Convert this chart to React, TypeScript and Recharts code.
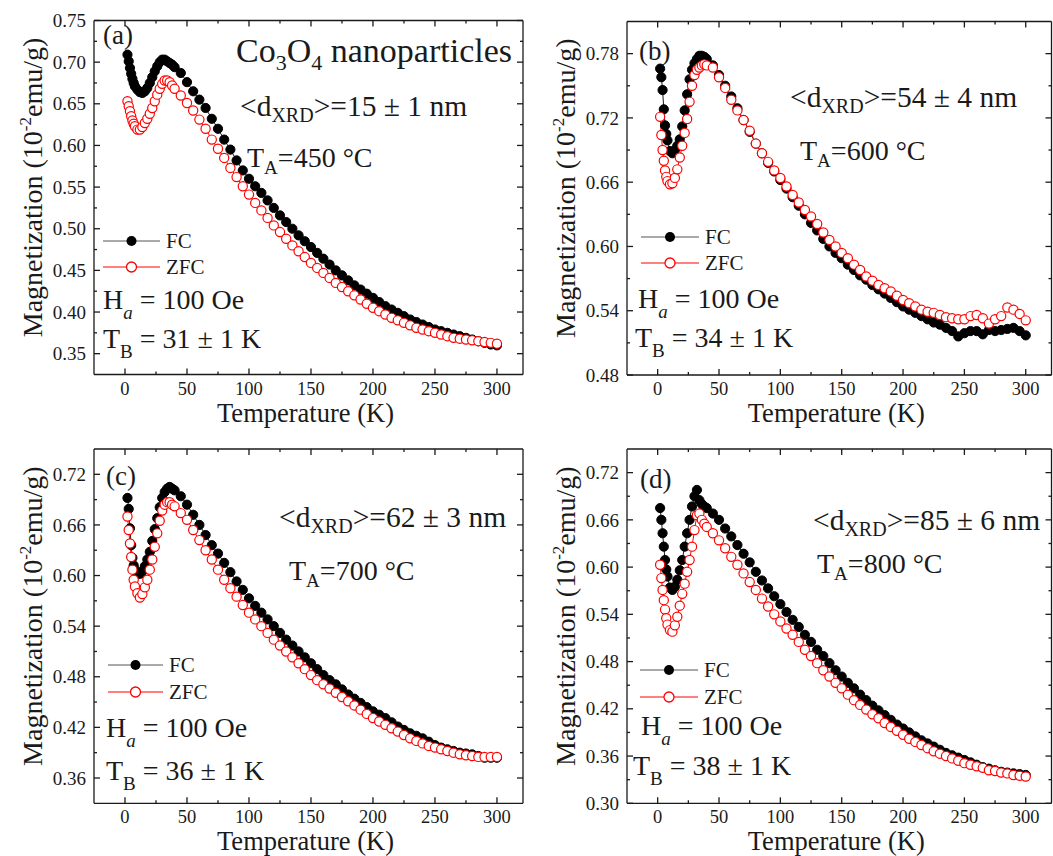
import { LineChart, Line, XAxis, YAxis } from 'recharts'

const FONT = '"Liberation Serif", "Times New Roman", Times, serif'
const INK = '#1a1a1a'
const RED = '#ff0000'

// temperature grid (K)
const temps = [
  2, 3, 4, 5, 6, 7, 8, 10, 12, 14, 16, 18, 20, 22, 24, 26, 28, 30, 32, 34, 36, 38, 40,
  45, 50, 55, 60, 65, 70, 75, 80, 85, 90, 95, 100, 105, 110, 115, 120, 125, 130, 135, 140,
  145, 150, 155, 160, 165, 170, 175, 180, 185, 190, 195, 200, 205, 210, 215, 220, 225, 230,
  235, 240, 245, 250, 255, 260, 265, 270, 275, 280, 285, 290, 295, 300,
]

// (a) T_A = 450 °C
const fcA = [
  0.709, 0.701, 0.693, 0.686, 0.680, 0.675, 0.671, 0.667, 0.664, 0.663, 0.665, 0.669, 0.675, 0.682, 0.689, 0.695, 0.700, 0.703, 0.703, 0.701, 0.699, 0.697, 0.694,
  0.687, 0.676, 0.665, 0.655, 0.645, 0.632, 0.620, 0.607, 0.595, 0.582,
  0.570, 0.560, 0.551, 0.543, 0.534, 0.525, 0.516, 0.508, 0.500, 0.492,
  0.485, 0.478, 0.471, 0.464, 0.457, 0.450, 0.444, 0.438, 0.432, 0.427,
  0.422, 0.417, 0.412, 0.407, 0.403, 0.399, 0.395, 0.391, 0.388, 0.385,
  0.382, 0.379, 0.377, 0.375, 0.373, 0.371, 0.369, 0.367, 0.365, 0.363,
  0.361, 0.360,
]
const zfcA = [
  0.653, 0.647, 0.641, 0.635, 0.630, 0.626, 0.623, 0.619, 0.619, 0.622, 0.627, 0.632, 0.638, 0.645, 0.653, 0.661, 0.668, 0.674, 0.678, 0.678, 0.676, 0.672, 0.668,
  0.660, 0.651, 0.642, 0.631, 0.620, 0.607, 0.596, 0.585, 0.573, 0.562,
  0.551, 0.541, 0.531, 0.522, 0.513, 0.504, 0.496, 0.488, 0.480, 0.473,
  0.466, 0.459, 0.453, 0.447, 0.441, 0.435, 0.430, 0.425, 0.420, 0.415,
  0.410, 0.405, 0.401, 0.397, 0.393, 0.390, 0.387, 0.384, 0.381, 0.379,
  0.377, 0.375, 0.373, 0.371, 0.369, 0.368, 0.367, 0.366, 0.365, 0.364,
  0.363, 0.362,
]

// (b) T_A = 600 °C
const fcB = [
  0.766, 0.758, 0.746, 0.728, 0.713, 0.705, 0.699, 0.689, 0.687, 0.690, 0.694, 0.700, 0.712, 0.727, 0.742, 0.756, 0.765, 0.771, 0.775, 0.778, 0.778, 0.777, 0.775,
  0.769, 0.760, 0.750, 0.740, 0.729, 0.718, 0.707, 0.696, 0.687, 0.678,
  0.670, 0.662, 0.654, 0.646, 0.638, 0.630, 0.622, 0.615, 0.607, 0.600,
  0.594, 0.589, 0.583, 0.578, 0.573, 0.569, 0.564, 0.560, 0.556, 0.552,
  0.548, 0.544, 0.541, 0.538, 0.535, 0.532, 0.529, 0.527, 0.524, 0.521,
  0.516, 0.519, 0.521, 0.521, 0.518, 0.522, 0.521, 0.522, 0.523, 0.524,
  0.521, 0.517,
]
const zfcB = [
  0.721, 0.704, 0.690, 0.680, 0.671, 0.665, 0.661, 0.658, 0.659, 0.664, 0.672, 0.683, 0.694, 0.706, 0.719, 0.735, 0.750, 0.760, 0.765, 0.767, 0.769, 0.770, 0.769,
  0.767, 0.758, 0.748, 0.737, 0.727, 0.718, 0.708, 0.696, 0.687, 0.679,
  0.671, 0.664, 0.656, 0.648, 0.641, 0.634, 0.628, 0.621, 0.613, 0.606,
  0.600, 0.594, 0.589, 0.583, 0.578, 0.572, 0.568, 0.564, 0.561, 0.558,
  0.554, 0.550, 0.547, 0.544, 0.541, 0.539, 0.538, 0.536, 0.534, 0.533,
  0.532, 0.532, 0.535, 0.536, 0.533, 0.528, 0.532, 0.535, 0.543, 0.541,
  0.537, 0.531,
]

// (c) T_A = 700 °C
const fcC = [
  0.692, 0.679, 0.656, 0.636, 0.621, 0.612, 0.607, 0.602, 0.602, 0.605, 0.611, 0.619, 0.628, 0.641, 0.655, 0.668, 0.681, 0.692, 0.699, 0.703, 0.705, 0.703, 0.701,
  0.694, 0.684, 0.672, 0.660, 0.648, 0.636, 0.626, 0.615, 0.604, 0.593,
  0.583, 0.573, 0.564, 0.556, 0.548, 0.540, 0.532, 0.524, 0.517, 0.510,
  0.503, 0.496, 0.489, 0.482, 0.476, 0.471, 0.465, 0.459, 0.454, 0.449,
  0.444, 0.439, 0.435, 0.431, 0.426, 0.421, 0.417, 0.413, 0.410, 0.407,
  0.403, 0.399, 0.396, 0.394, 0.392, 0.390, 0.389, 0.388, 0.386, 0.384,
  0.384, 0.384,
]
const zfcC = [
  0.670, 0.654, 0.638, 0.622, 0.607, 0.595, 0.587, 0.579, 0.574, 0.578, 0.586, 0.595, 0.607, 0.619, 0.634, 0.650, 0.665, 0.677, 0.684, 0.687, 0.687, 0.684, 0.682,
  0.674, 0.666, 0.654, 0.642, 0.630, 0.619, 0.607, 0.595, 0.585, 0.575,
  0.565, 0.556, 0.548, 0.540, 0.532, 0.524, 0.517, 0.510, 0.503, 0.496,
  0.489, 0.482, 0.476, 0.471, 0.466, 0.461, 0.456, 0.451, 0.446, 0.441,
  0.436, 0.431, 0.427, 0.423, 0.419, 0.415, 0.411, 0.407, 0.404, 0.401,
  0.398, 0.396, 0.394, 0.392, 0.390, 0.388, 0.387, 0.386, 0.385, 0.385,
  0.385, 0.385,
]

// (d) T_A = 800 °C
const fcD = [
  0.675, 0.660, 0.643, 0.626, 0.609, 0.597, 0.588, 0.574, 0.571, 0.575, 0.584, 0.596, 0.609, 0.626, 0.643, 0.660, 0.677, 0.690, 0.698, 0.685, 0.680, 0.677, 0.675,
  0.668, 0.660, 0.649, 0.639, 0.628, 0.617, 0.606, 0.594, 0.583, 0.573,
  0.563, 0.553, 0.543, 0.533, 0.524, 0.514, 0.505, 0.495, 0.487, 0.478,
  0.469, 0.461, 0.453, 0.446, 0.438, 0.431, 0.424, 0.418, 0.412, 0.406,
  0.400, 0.395, 0.390, 0.385, 0.380, 0.376, 0.372, 0.368, 0.364, 0.361,
  0.358, 0.355, 0.352, 0.349, 0.346, 0.344, 0.342, 0.340, 0.339, 0.338,
  0.337, 0.336,
]
const zfcD = [
  0.603, 0.586, 0.571, 0.558, 0.546, 0.535, 0.527, 0.520, 0.518, 0.526, 0.537, 0.551, 0.566, 0.579, 0.594, 0.609, 0.626, 0.647, 0.666, 0.668, 0.660, 0.655, 0.651,
  0.643, 0.634, 0.624, 0.613, 0.603, 0.592, 0.581, 0.571, 0.560, 0.550,
  0.540, 0.531, 0.522, 0.514, 0.505, 0.495, 0.487, 0.478, 0.469, 0.461,
  0.453, 0.446, 0.438, 0.431, 0.425, 0.419, 0.413, 0.408, 0.402, 0.397,
  0.392, 0.387, 0.382, 0.378, 0.374, 0.370, 0.366, 0.363, 0.360, 0.357,
  0.354, 0.351, 0.349, 0.347, 0.345, 0.342, 0.341, 0.339, 0.338, 0.336,
  0.335, 0.334,
]

const xMajor = [0, 50, 100, 150, 200, 250, 300]
const xMinor = [25, 75, 125, 175, 225, 275]

const yMajorA = [0.35, 0.4, 0.45, 0.5, 0.55, 0.6, 0.65, 0.7, 0.75]
const yMinorA = [0.375, 0.425, 0.475, 0.525, 0.575, 0.625, 0.675, 0.725]
const yMajorB = [0.48, 0.54, 0.6, 0.66, 0.72, 0.78]
const yMinorB = [0.51, 0.57, 0.63, 0.69, 0.75]
const yMajorC = [0.36, 0.42, 0.48, 0.54, 0.6, 0.66, 0.72]
const yMinorC = [0.39, 0.45, 0.51, 0.57, 0.63, 0.69]
const yMajorD = [0.3, 0.36, 0.42, 0.48, 0.54, 0.6, 0.66, 0.72]
const yMinorD = [0.33, 0.39, 0.45, 0.51, 0.57, 0.63, 0.69]

const near = (v: number, list: number[]) => list.some((m) => Math.abs(m - v) < 1e-6)

function makeTick(side: string, majors: number[], digits: number) {
  return function Tick(props: any) {
    const { x, y, payload } = props
    const v = payload.value
    const major = near(v, majors)
    const len = major ? 6 : 3
    let line
    if (side === 'bottom') line = <line x1={x} x2={x} y1={y} y2={y - len} stroke={INK} strokeWidth={1.3} />
    else if (side === 'top') line = <line x1={x} x2={x} y1={y} y2={y + len} stroke={INK} strokeWidth={1.3} />
    else if (side === 'left') line = <line x1={x} x2={x + len} y1={y} y2={y} stroke={INK} strokeWidth={1.3} />
    else line = <line x1={x} x2={x - len} y1={y} y2={y} stroke={INK} strokeWidth={1.3} />
    let label = null
    if (major && side === 'bottom')
      label = (
        <text x={x} y={y + 20} textAnchor="middle" fontSize={18.5} fontFamily={FONT} fill={INK}>
          {v.toFixed(digits)}
        </text>
      )
    if (major && side === 'left')
      label = (
        <text x={x - 8} y={y} dy="0.35em" textAnchor="end" fontSize={19} fontFamily={FONT} fill={INK}>
          {v.toFixed(digits)}
        </text>
      )
    return (
      <g>
        {line}
        {label}
      </g>
    )
  }
}

const panels = [
  {
    key: 'a', L: 0, T: 0, W: 535, H: 430, x0: 94, x1: 523, y0: 20.5, y1: 374.5,
    yDomain: [0.325, 0.75], yMajor: yMajorA, yMinor: yMinorA, fc: fcA, zfc: zfcA,
    tag: '(a)', tagPos: [103, 44], size: '15 ± 1 nm', sizePos: [240, 116], ta: '450', taPos: [247, 167],
    leg: [103, 160, 241, 267], ha: [103, 309], tb: [103, 348], tbText: '31 ± 1 K',
  },
  {
    key: 'b', L: 530, T: 0, W: 523, H: 430, x0: 627, x1: 1051.5, y0: 21.5, y1: 375,
    yDomain: [0.48, 0.81], yMajor: yMajorB, yMinor: yMinorB, fc: fcB, zfc: zfcB,
    tag: '(b)', tagPos: [639, 60], size: '54 ± 4 nm', sizePos: [790, 107], ta: '600', taPos: [800, 160],
    leg: [641, 699, 237, 263], ha: [638, 308], tb: [635, 347], tbText: '34 ± 1 K',
  },
  {
    key: 'c', L: 0, T: 428, W: 535, H: 428, x0: 94, x1: 523, y0: 449, y1: 803.3,
    yDomain: [0.33, 0.75], yMajor: yMajorC, yMinor: yMinorC, fc: fcC, zfc: zfcC,
    tag: '(c)', tagPos: [106, 485], size: '62 ± 3 nm', sizePos: [279, 527], ta: '700', taPos: [289, 580],
    leg: [108, 163, 665, 692], ha: [106, 737], tb: [106, 780], tbText: '36 ± 1 K',
  },
  {
    key: 'd', L: 530, T: 428, W: 523, H: 428, x0: 627, x1: 1051.5, y0: 449, y1: 803.3,
    yDomain: [0.3, 0.75], yMajor: yMajorD, yMinor: yMinorD, fc: fcD, zfc: zfcD,
    tag: '(d)', tagPos: [640, 488], size: '85 ± 6 nm', sizePos: [813, 530], ta: '800', taPos: [817, 573],
    leg: [640, 698, 670, 697], ha: [641, 735], tb: [633, 775], tbText: '38 ± 1 K',
  },
]

const frame = { stroke: INK, strokeWidth: 1.3 }

function Panel({ p }: { p: any }) {
  const rows = temps.map((t, i) => ({ t, fc: p.fc[i], zfc: p.zfc[i] }))
  const margin = {
    left: p.x0 - p.L - 1,
    right: p.L + p.W - p.x1 - 1,
    top: p.y0 - p.T - 1,
    bottom: p.T + p.H - p.y1 - 1,
  }
  const xTicks = [...xMajor, ...xMinor].sort((a, b) => a - b)
  const yTicks = [...p.yMajor, ...p.yMinor].sort((a: number, b: number) => a - b)
  return (
    <div style={{ position: 'absolute', left: p.L, top: p.T }}>
      <LineChart width={p.W} height={p.H} data={rows} margin={margin}>
        <XAxis xAxisId="b" orientation="bottom" dataKey="t" type="number" domain={[-25, 321]} allowDataOverflow
          ticks={xTicks} interval={0} height={1} tickSize={0} tickMargin={0} tickLine={false} axisLine={frame}
          tick={makeTick('bottom', xMajor, 0)} />
        <XAxis xAxisId="t" orientation="top" dataKey="t" type="number" domain={[-25, 321]} allowDataOverflow
          ticks={xTicks} interval={0} height={1} tickSize={0} tickMargin={0} tickLine={false} axisLine={frame}
          tick={makeTick('top', xMajor, 0)} />
        <YAxis yAxisId="l" orientation="left" type="number" domain={p.yDomain} allowDataOverflow
          ticks={yTicks} interval={0} width={1} tickSize={0} tickMargin={0} tickLine={false} axisLine={frame}
          tick={makeTick('left', p.yMajor, 2)} />
        <YAxis yAxisId="r" orientation="right" type="number" domain={p.yDomain} allowDataOverflow
          ticks={yTicks} interval={0} width={1} tickSize={0} tickMargin={0} tickLine={false} axisLine={frame}
          tick={makeTick('right', p.yMajor, 2)} />
        <Line xAxisId="b" yAxisId="l" dataKey="fc" stroke={INK} strokeWidth={1}
          dot={{ r: 4.6, fill: '#000', stroke: '#000', strokeWidth: 1 }} activeDot={false} isAnimationActive={false} />
        <Line xAxisId="b" yAxisId="l" dataKey="zfc" stroke={RED} strokeWidth={1}
          dot={{ r: 4.6, fill: '#fff', stroke: RED, strokeWidth: 1.2 }} activeDot={false} isAnimationActive={false} />
      </LineChart>
    </div>
  )
}

function Notes({ p }: { p: any }) {
  const [lx0, lx1, ly1, ly2] = p.leg
  const mx = (lx0 + lx1) / 2
  const cx = p.x0 - 62
  const cy = (p.y0 + p.y1) / 2 - 10
  return (
    <g fontFamily={FONT} fill={INK}>
      <text x={p.tagPos[0]} y={p.tagPos[1]} fontSize={27}>{p.tag}</text>
      {p.key === 'a' && (
        <text x={236} y={62} fontSize={34}>
          Co<tspan fontSize={22} dy={8}>3</tspan>
          <tspan dy={-8}>O</tspan>
          <tspan fontSize={22} dy={8}>4</tspan>
          <tspan dy={-8}> nanoparticles</tspan>
        </text>
      )}
      <text x={p.sizePos[0]} y={p.sizePos[1]} fontSize={29.5}>
        {'<d'}<tspan fontSize={20} dy={6}>XRD</tspan>
        <tspan dy={-6}>{'>=' + p.size}</tspan>
      </text>
      <text x={p.taPos[0]} y={p.taPos[1]} fontSize={28}>
        T<tspan fontSize={19} dy={7}>A</tspan>
        <tspan dy={-7}>{'=' + p.ta + ' °C'}</tspan>
      </text>
      <line x1={lx0} x2={lx1} y1={ly1} y2={ly1} stroke="#555" strokeWidth={1} />
      <circle cx={mx} cy={ly1} r={5} fill="#000" />
      <text x={lx1 + 6} y={ly1 + 7} fontSize={21}>FC</text>
      <line x1={lx0} x2={lx1} y1={ly2} y2={ly2} stroke={RED} strokeWidth={1} />
      <circle cx={mx} cy={ly2} r={5} fill="#fff" stroke={RED} strokeWidth={1.3} />
      <text x={lx1 + 6} y={ly2 + 7} fontSize={21}>ZFC</text>
      <text x={p.ha[0]} y={p.ha[1]} fontSize={28}>
        H<tspan fontSize={19} dy={10} fontStyle="italic">a</tspan>
        <tspan dy={-10}> = 100 Oe</tspan>
      </text>
      <text x={p.tb[0]} y={p.tb[1]} fontSize={28}>
        T<tspan fontSize={19} dy={10}>B</tspan>
        <tspan dy={-10}>{' = ' + p.tbText}</tspan>
      </text>
      <text x={(p.x0 + p.x1) / 2 - 3} y={p.y1 + 47} textAnchor="middle" fontSize={26.5}>Temperature (K)</text>
      <text transform={`translate(${cx},${cy}) rotate(-90)`} textAnchor="middle" dy="0.35em" fontSize={28}>
        Magnetization (10<tspan fontSize={17} dy={-11}>-2</tspan>
        <tspan dy={11}>emu/g)</tspan>
      </text>
    </g>
  )
}

export default function App() {
  return (
    <div style={{ position: 'absolute', left: 0, top: 0, width: 1053, height: 856, background: '#fff', overflow: 'hidden' }}>
      {panels.map((p) => (
        <Panel key={p.key} p={p} />
      ))}
      <svg width={1053} height={856} style={{ position: 'absolute', left: 0, top: 0, pointerEvents: 'none' }}>
        {panels.map((p) => (
          <Notes key={p.key} p={p} />
        ))}
      </svg>
    </div>
  )
}
